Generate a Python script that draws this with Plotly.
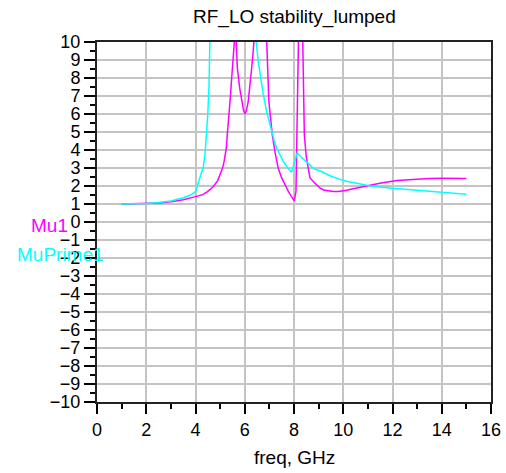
import plotly.graph_objects as go

# Mu1 (magenta)
mu_freq = [1.0, 1.5, 2.0, 2.5, 3.0, 3.5, 4.0, 4.3, 4.5, 4.72, 4.9, 5.0, 5.1, 5.16, 5.25, 5.29,
           5.35, 5.4, 5.47, 5.54, 5.6, 5.63, 5.66, 5.7, 5.8, 5.88, 5.95, 6.01, 6.07, 6.14, 6.22,
           6.28, 6.35, 6.39, 6.42, 6.5, 6.7, 6.85, 6.89, 6.98, 7.05, 7.12, 7.24, 7.36, 7.5, 7.63,
           7.77, 7.9, 8.01, 8.08, 8.13, 8.18, 8.24, 8.3, 8.35, 8.38, 8.42, 8.5, 8.58, 8.65, 8.85,
           9.05, 9.2, 9.4, 9.6, 9.8, 10.14, 10.5, 10.81, 11.1, 11.49, 12.17, 12.85, 13.5, 14.0,
           14.5, 15.0]
mu_val = [1.0, 1.01, 1.03, 1.06, 1.12, 1.24, 1.41, 1.52, 1.7, 1.96, 2.3, 2.61, 3.0, 3.35, 4.1, 4.83,
          5.7, 6.68, 8.0, 9.3, 10.2, 11.0, 9.8, 8.54, 7.4, 6.68, 6.2, 6.0, 6.2, 6.68, 7.6,
          8.54, 9.6, 10.2, 11.0, 30.0, 30.0, 11.0, 10.1, 6.68, 5.7, 4.83, 3.8, 2.98, 2.45, 2.06,
          1.7, 1.41, 1.18, 1.69, 4.0, 7.0, 10.5, 20.0, 10.5, 6.5, 4.83, 3.6, 2.98, 2.45, 2.15,
          1.9, 1.78, 1.72, 1.69, 1.7, 1.76, 1.87, 1.96, 2.05, 2.15, 2.3, 2.37, 2.42, 2.43,
          2.43, 2.42]

# MuPrime1 (cyan)
mp_freq = [1.0, 1.5, 2.0, 2.5, 3.0, 3.5, 3.8, 4.0, 4.18, 4.32, 4.4, 4.45, 4.5, 4.55, 4.6, 4.65,
           5.0, 6.0, 6.4, 6.46, 6.54, 6.62, 6.75, 6.89, 7.0, 7.09, 7.2, 7.3, 7.43, 7.57, 7.75,
           7.9, 8.13, 8.3, 8.58, 8.78, 9.06, 9.46, 10.0, 10.68, 11.1, 12.0, 13.0, 14.0, 15.0]
mp_val = [1.0, 1.01, 1.03, 1.08, 1.17, 1.35, 1.5, 1.69, 2.4, 3.07, 4.0, 4.9, 6.0, 7.6, 10.2, 14.0,
          40.0, 40.0, 14.0, 10.1, 9.0, 8.2, 7.1, 6.13, 5.5, 5.02, 4.5, 4.09, 3.7, 3.35, 3.0,
          2.76, 3.85, 3.6, 3.26, 2.98, 2.83, 2.57, 2.3, 2.09, 2.0, 1.87, 1.76, 1.65, 1.54]

x_ticks = [0, 2, 4, 6, 8, 10, 12, 14, 16]
y_ticks = list(range(-10, 11))

MAG = "#FF00FF"
CYAN = "#00FFFF"
FONT = "Liberation Sans, Arial, sans-serif"

fig = go.Figure()
fig.add_trace(go.Scatter(x=mu_freq, y=mu_val, mode="lines", line=dict(color=MAG, width=1.5),
                         name="Mu1", showlegend=False, hoverinfo="skip"))
fig.add_trace(go.Scatter(x=mp_freq, y=mp_val, mode="lines", line=dict(color=CYAN, width=1.5),
                         name="MuPrime1", showlegend=False, hoverinfo="skip"))

fig.update_layout(
    width=506, height=473,
    margin=dict(l=97, r=15, t=42, b=71),
    paper_bgcolor="white", plot_bgcolor="white",
    font=dict(family=FONT, color="black", size=18),
    xaxis=dict(range=[0, 16], tickvals=x_ticks, ticks="outside", ticklen=10, tickwidth=1.5,
               tickcolor="black", showgrid=True, gridcolor="#c4c4c4", gridwidth=2,
               showline=True, linecolor="#222222", linewidth=2, mirror=True, zeroline=False,
               tickfont=dict(size=18), automargin=False,
               minor=dict(dtick=1, ticks="outside", ticklen=5, tickcolor="black", showgrid=False)),
    yaxis=dict(range=[-10, 10], tickvals=y_ticks, ticks="outside", ticklen=11, tickwidth=1.5,
               tickcolor="black", showgrid=True, gridcolor="#c4c4c4", gridwidth=2,
               showline=True, linecolor="#222222", linewidth=2, mirror=True, zeroline=False,
               tickfont=dict(size=18), automargin=False,
               minor=dict(dtick=0.5, ticks="outside", ticklen=5, tickcolor="black", showgrid=False)),
    annotations=[
        dict(text="RF_LO stability_lumped", xref="paper", yref="paper", x=0.5, y=1.069,
             xanchor="center", yanchor="middle", showarrow=False, font=dict(size=19)),
        dict(text="freq, GHz", xref="paper", yref="paper", x=0.5, y=-0.153,
             xanchor="center", yanchor="middle", showarrow=False, font=dict(size=19)),
        dict(text="Mu1", xref="paper", yref="paper", x=-0.0685, y=0.489,
             xanchor="right", yanchor="middle", showarrow=False, font=dict(size=19, color=MAG)),
        dict(text="MuPrime1", xref="paper", yref="paper", x=-0.208, y=0.411,
             xanchor="left", yanchor="middle", showarrow=False, font=dict(size=19, color=CYAN)),
    ],
)

fig.write_html("out.html", config={"displayModeBar": False},
               post_script="document.body.style.margin='0';document.body.style.overflow='hidden';")
